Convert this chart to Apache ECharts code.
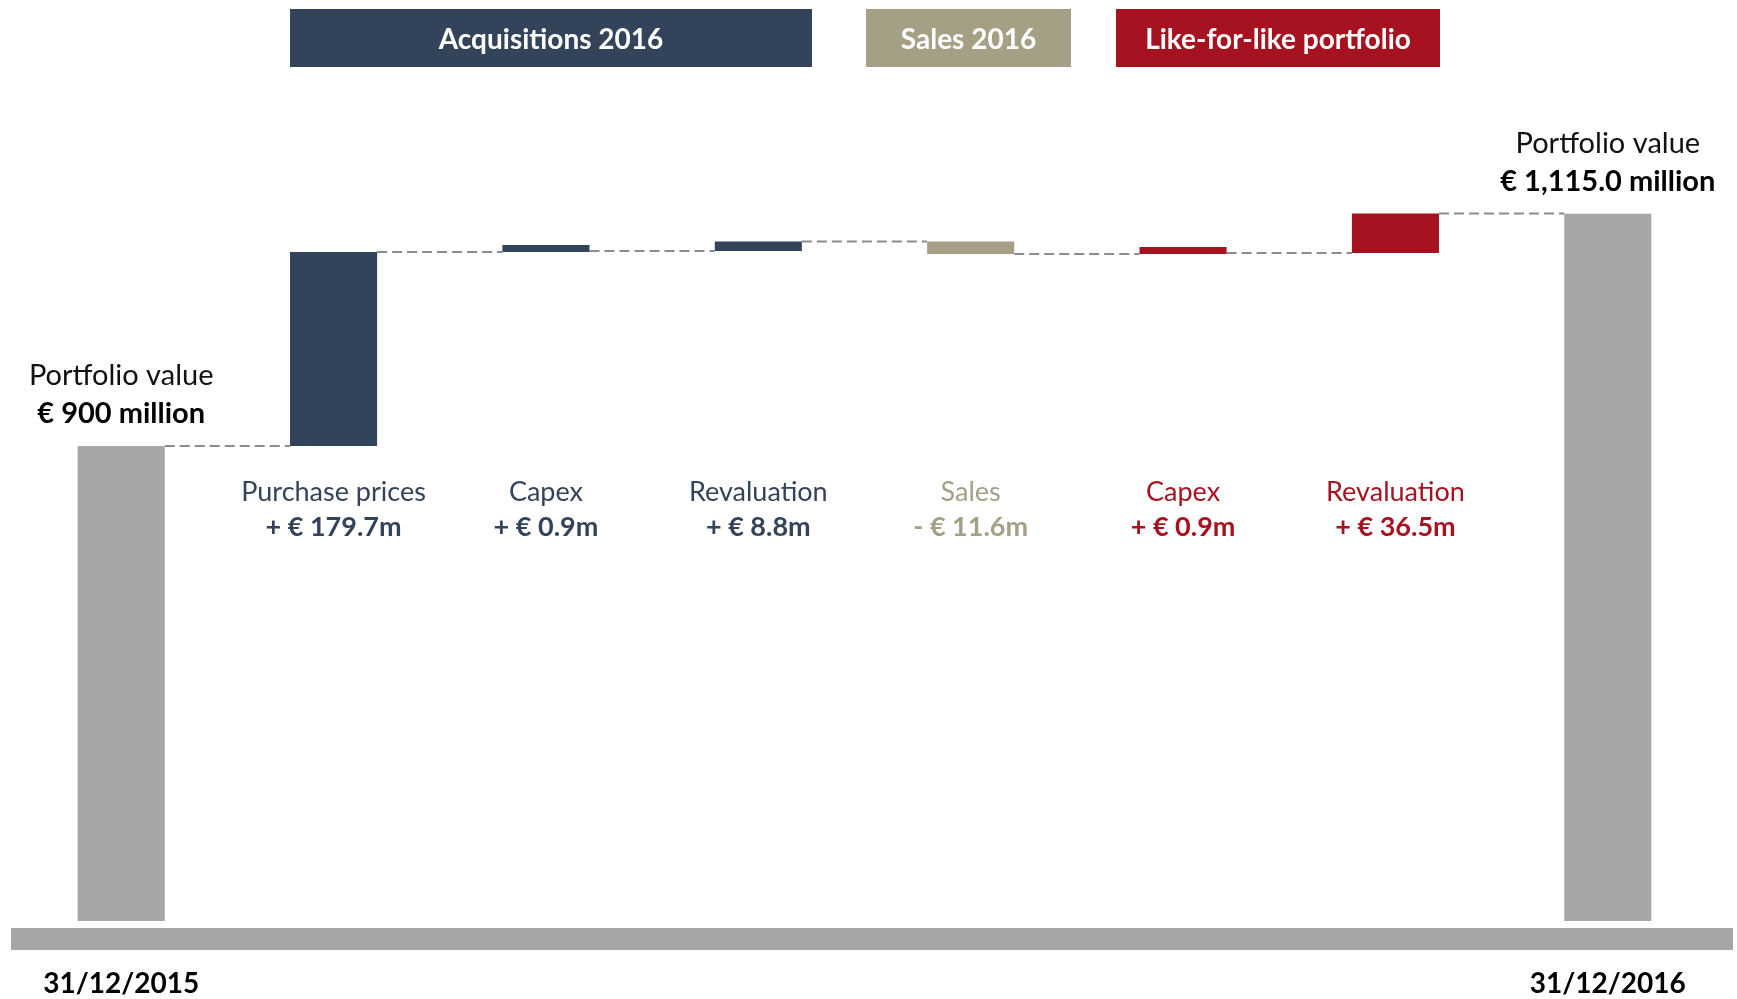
<!DOCTYPE html>
<html>
<head>
<meta charset="utf-8">
<script src="https://cdn.jsdelivr.net/npm/echarts@6/dist/echarts.min.js"></script>
<style>
  html, body { margin: 0; padding: 0; background: #ffffff; }
  #chart { width: 1737px; height: 999px; }
</style>
</head>
<body>
<div id="chart"></div>
<script>
// Portfolio value bridge, 31/12/2015 -> 31/12/2016 (EUR million)
const categories = ['31/12/2015', 'Purchase prices', 'Capex', 'Revaluation', 'Sales', 'Capex', 'Revaluation', '31/12/2016'];
const openingValue = 900;
const closingValue = 1115.0;
const changes = [179.7, 0.9, 8.8, -11.6, 0.9, 36.5];
const changeGroups = ['acq', 'acq', 'acq', 'sales', 'lfl', 'lfl'];
const changeLabels = ['+ € 179.7m', '+ € 0.9m', '+ € 8.8m', '- € 11.6m', '+ € 0.9m', '+ € 36.5m'];
const totalCaption = 'Portfolio value';
const totalLabels = ['€ 900 million', '€ 1,115.0 million'];
const legendNames = ['Acquisitions 2016', 'Sales 2016', 'Like-for-like portfolio'];

const COLORS = { acq: '#33445A', sales: '#A59F86', lfl: '#A6121F', total: '#A6A6A6' };
const FONT = 'Lato, "Open Sans", sans-serif';
const BAR_RATIO = 0.41;
const MIN_BAR_PX = 7;

// Floating bars: [categoryIndex, from, to]
const bars = [];
const barKinds = [];
bars.push([0, 0, openingValue]); barKinds.push('total');
let running = openingValue;
changes.forEach((c, i) => {
  bars.push([i + 1, running, running + c]);
  barKinds.push(changeGroups[i]);
  running += c;
});
bars.push([categories.length - 1, 0, closingValue]); barKinds.push('total');

// Connector levels: value reached after each bar
const levels = [[0, openingValue]];
running = openingValue;
changes.forEach((c, i) => { running += c; levels.push([i + 1, running]); });

function barWidth(api) { return api.size([1, 0])[0] * BAR_RATIO; }

function renderBar(params, api) {
  const idx = api.value(0), from = api.value(1), to = api.value(2);
  const kind = barKinds[params.dataIndex];
  const w = barWidth(api);
  const p0 = api.coord([idx, from]);
  const p1 = api.coord([idx, to]);
  let y0 = p0[1], y1 = p1[1];
  if (Math.abs(y0 - y1) < MIN_BAR_PX) y1 = y0 + (to >= from ? -MIN_BAR_PX : MIN_BAR_PX);
  const top = Math.min(y0, y1), h = Math.abs(y0 - y1);
  const children = [{
    type: 'rect',
    shape: { x: p0[0] - w / 2, y: top, width: w, height: h },
    style: { fill: COLORS[kind] }
  }];
  if (kind === 'total') {
    const t = params.dataIndex === 0 ? totalLabels[0] : totalLabels[1];
    children.push({
      type: 'text',
      x: p0[0], y: top - 13,
      style: {
        text: '{a|' + totalCaption + '}\n{b|' + t + '}',
        align: 'center', verticalAlign: 'bottom',
        rich: {
          a: { fontSize: 29, fontFamily: FONT, fill: '#111111', lineHeight: 38, align: 'center' },
          b: { fontSize: 29, fontFamily: FONT, fontWeight: 'bold', fill: '#000000', lineHeight: 38, align: 'center' }
        }
      }
    });
  } else {
    const ci = params.dataIndex - 1;
    const baseY = api.coord([idx, openingValue])[1];
    children.push({
      type: 'text', x: p0[0], y: baseY + 46,
      style: { text: categories[idx], align: 'center', verticalAlign: 'middle',
               fontSize: 27, fontFamily: FONT, fill: COLORS[kind] }
    });
    children.push({
      type: 'text', x: p0[0], y: baseY + 81,
      style: { text: changeLabels[ci], align: 'center', verticalAlign: 'middle',
               fontSize: 27, fontFamily: FONT, fontWeight: 'bold', fill: COLORS[kind] }
    });
  }
  return { type: 'group', children };
}

function renderConnector(params, api) {
  const idx = api.value(0), lvl = api.value(1);
  const w = barWidth(api);
  const a = api.coord([idx, lvl]);
  const b = api.coord([idx + 1, lvl]);
  return {
    type: 'line',
    shape: { x1: a[0] + w / 2, y1: a[1], x2: b[0] - w / 2, y2: b[1] },
    style: { stroke: '#8C8C8C', lineWidth: 2, lineDash: [10, 5] }
  };
}

// Group header boxes
const legendBoxes = [
  { x: 290, w: 522, color: COLORS.acq },
  { x: 866, w: 205, color: COLORS.sales },
  { x: 1116, w: 324, color: COLORS.lfl }
];
const headerGraphics = legendBoxes.map((b, i) => ({
  type: 'group', left: b.x, top: 9,
  children: [
    { type: 'rect', shape: { x: 0, y: 0, width: b.w, height: 58 }, style: { fill: b.color } },
    { type: 'text', x: b.w / 2, y: 31,
      style: { text: legendNames[i], align: 'center', verticalAlign: 'middle',
               fontSize: 28, fontWeight: 'bold', fontFamily: FONT, fill: '#ffffff' } }
  ]
}));

const chart = echarts.init(document.getElementById('chart'), null, { renderer: 'canvas' });
chart.setOption({
  animation: false,
  backgroundColor: '#ffffff',
  grid: { left: 15, right: 23, top: 122, bottom: 78 },
  xAxis: {
    type: 'category',
    data: categories,
    boundaryGap: true,
    axisLine: { show: false },
    axisTick: { show: false },
    splitLine: { show: false },
    axisLabel: {
      interval: 0,
      margin: 49,
      formatter: (v, i) => (i === 0 || i === categories.length - 1) ? '{d|' + v + '}' : '',
      rich: { d: { fontSize: 28, fontWeight: 'bold', fontFamily: FONT, color: '#000000' } }
    }
  },
  yAxis: {
    type: 'value', min: 460, max: 1200, show: false,
    splitLine: { show: false }
  },
  graphic: [
    { type: 'rect', left: 11, top: 928, shape: { width: 1722, height: 22 }, style: { fill: '#A6A6A6' } }
  ].concat(headerGraphics),
  series: [
    { type: 'custom', name: 'connectors', renderItem: renderConnector, data: levels, clip: false, z: 1 },
    { type: 'custom', name: 'bars', renderItem: renderBar, data: bars,
      encode: { x: 0, y: [1, 2] }, clip: true, z: 2 }
  ]
});
</script>
</body>
</html>
